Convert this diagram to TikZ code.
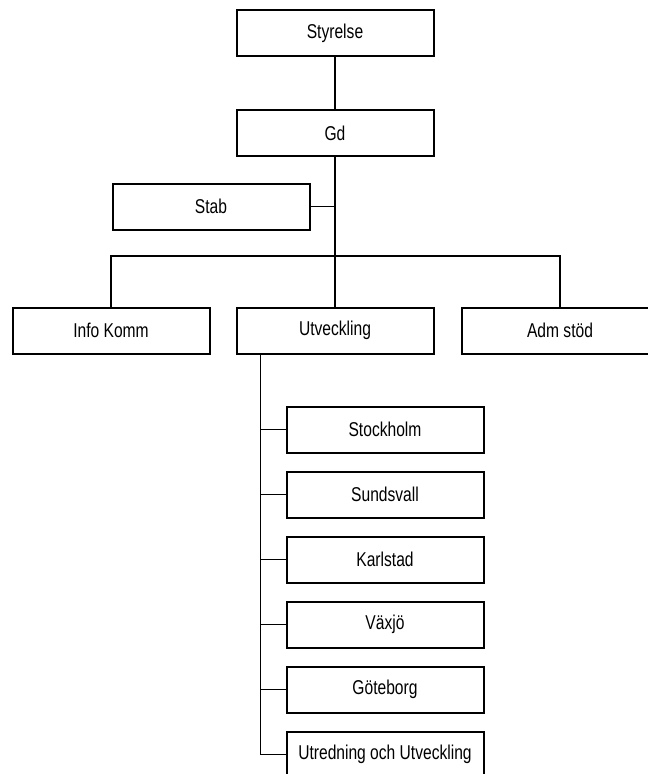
\documentclass[tikz,border=0pt]{standalone}
\usepackage{fontspec}
\setmainfont{Liberation Sans}[FakeStretch=0.78]
\begin{document}
\begin{tikzpicture}[x=1pt,y=-1pt,
  box/.style={draw, line width=2pt, minimum width=197pt, minimum height=46pt, inner sep=0pt,
    font=\fontsize{20}{22}\selectfont},
  conn/.style={line width=1.6pt},
  thick conn/.style={line width=2.6pt}]
\useasboundingbox (0,0) rectangle (648,774);
\clip (0,0) rectangle (648,774);
\node[box] (sty) at (335,33) {Styrelse};
\node[box] (gd) at (335,133) {Gd};
\node[box] (stab) at (211,206.5) {Stab};
\node[box] (info) at (111,330.5) {Info Komm};
\node[box] (utv) at (335,330.5) {Utveckling};
\node[box] (adm) at (560,330.5) {Adm stöd};
\node[box] (sto) at (385,429.5) {Stockholm};
\node[box] (sun) at (385,494.5) {Sundsvall};
\node[box] (kar) at (385,559.5) {Karlstad};
\node[box] (vax) at (385,624.5) {Växjö};
\node[box] (got) at (385,689.5) {Göteborg};
\node[box] (utr) at (385,754.5) {Utredning och Utveckling};
\coordinate (bar) at (335,256);
\coordinate (sp) at (260.5,354);
\draw[conn] (sty.south) -- (gd.north);
\draw[thick conn] (gd.south) -- (gd.south |- stab.east);
\draw[conn] (stab.east) -- (gd.south |- stab.east) -- (utv.north);
\draw[conn] (info.north) |- (bar) -| (adm.north);
\draw[conn] (sp) |- (utr.west);
\foreach \n in {sto,sun,kar,vax,got}
  \draw[conn] (sp |- \n.west) -- (\n.west);
\end{tikzpicture}
\end{document}
